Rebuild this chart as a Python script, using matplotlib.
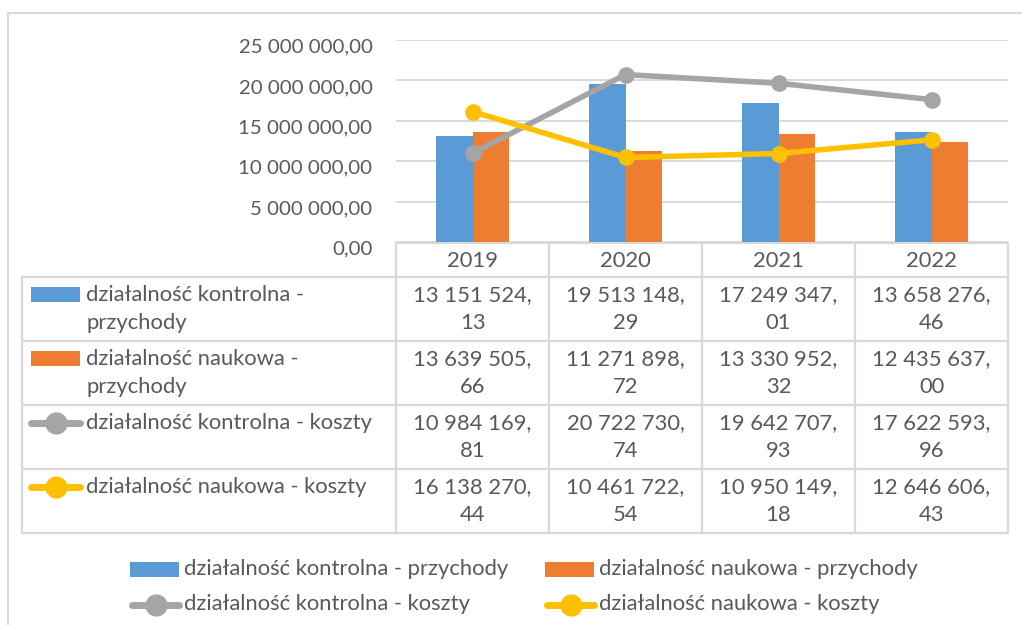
import numpy as np
import matplotlib.pyplot as plt
from matplotlib.patches import Rectangle
from matplotlib.transforms import ScaledTranslation

plt.rcParams['font.family'] = ['Lato', 'DejaVu Sans']

# dane
lata = ['2019', '2020', '2021', '2022']
serie = ['działalność kontrolna - przychody', 'działalność naukowa - przychody',
         'działalność kontrolna - koszty', 'działalność naukowa - koszty']
kontrolna_przychody = [13151524.13, 19513148.29, 17249347.01, 13658276.46]
naukowa_przychody = [13639505.66, 11271898.72, 13330952.32, 12435637.00]
kontrolna_koszty = [10984169.81, 20722730.74, 19642707.93, 17622593.96]
naukowa_koszty = [16138270.44, 10461722.54, 10950149.18, 12646606.43]
wartosci = [kontrolna_przychody, naukowa_przychody, kontrolna_koszty, naukowa_koszty]
kolory = ['#5B9BD5', '#ED7D31', '#A5A5A5', '#FFC000']
typy = ['bar', 'bar', 'line', 'line']

TXT = '#595959'
SIATKA = '#D9D9D9'
FS = 15.8
FS_Y = 14.7
W, H = 1022, 625


def pl(v):
    # format polski: spacja jako separator tysięcy, przecinek dziesiętny
    s = f'{v:,.2f}'
    return s.replace(',', ' ').replace('.', ',')


fig = plt.figure(figsize=(W / 100, H / 100), dpi=100)

# warstwa do tabeli, ramki i legendy (współrzędne w pikselach)
ov = fig.add_axes([0, 0, 1, 1])
ov.set_xlim(0, W)
ov.set_ylim(H, 0)
ov.axis('off')

x0, x1, ytop, y0 = 396, 1008, 40, 242
ax = fig.add_axes([x0 / W, 1 - y0 / H, (x1 - x0) / W, (y0 - ytop) / H])
x = np.arange(len(lata))
bw = 0.239
ax.bar(x - bw / 2, kontrolna_przychody, bw, color=kolory[0], zorder=2)
ax.bar(x + bw / 2, naukowa_przychody, bw, color=kolory[1], zorder=2)
ax.plot(x, kontrolna_koszty, color=kolory[2], lw=4, marker='o', ms=11, zorder=3,
        solid_capstyle='round')
ax.plot(x, naukowa_koszty, color=kolory[3], lw=4, marker='o', ms=11, zorder=3,
        solid_capstyle='round')
ax.set_xlim(-0.5, len(lata) - 0.5)
ax.set_ylim(0, 25000000)
ax.set_yticks(np.arange(0, 25000001, 5000000))
ax.set_yticklabels([pl(t) for t in ax.get_yticks()], fontsize=FS_Y, color=TXT)
ax.set_xticks([])
ax.tick_params(axis='y', length=0, pad=17)
for lab in ax.get_yticklabels():
    lab.set_transform(lab.get_transform() + ScaledTranslation(0, -4 / 72, fig.dpi_scale_trans))
ax.grid(axis='y', color=SIATKA, lw=1.4, zorder=0)
for s in ax.spines.values():
    s.set_visible(False)
ax.patch.set_alpha(0)

# ramka wykresu
ov.plot([8, 8], [13, H], color=SIATKA, lw=1.5)
ov.plot([8, W], [13, 13], color=SIATKA, lw=1.5)

# tabela danych
lw_t = 1.6
cw = (x1 - x0) / len(lata)
kol = [x0 + i * cw for i in range(len(lata) + 1)]
hy0, hy1 = 243, 277
ov.plot([x0, x1], [hy0, hy0], color=SIATKA, lw=lw_t)
for k in kol:
    ov.plot([k, k], [hy0, hy1], color=SIATKA, lw=lw_t)
for i, rok in enumerate(lata):
    ov.text(kol[i] + cw / 2, (hy0 + hy1) / 2 + 1, rok, ha='center', va='center',
            fontsize=FS, color=TXT)

tx0, by1 = 22, 533
rh = (by1 - hy1) / len(serie)
wiersze = [hy1 + j * rh for j in range(len(serie) + 1)]
for r in wiersze:
    ov.plot([tx0, x1], [r, r], color=SIATKA, lw=lw_t)
for k in [tx0] + kol:
    ov.plot([k, k], [hy1, by1], color=SIATKA, lw=lw_t)

for j, (nazwa, vals, c, t) in enumerate(zip(serie, wartosci, kolory, typy)):
    r = wiersze[j]
    if t == 'bar':
        ov.add_patch(Rectangle((31, r + 10), 49, 15, color=c, lw=0))
        linie = nazwa.replace(' - przychody', ' -\nprzychody').split('\n')
    else:
        ov.plot([31, 80], [r + 18, r + 18], color=c, lw=5, solid_capstyle='round')
        ov.plot([55.5], [r + 18], marker='o', ms=15, color=c)
        linie = [nazwa]
    for n, ln in enumerate(linie):
        ov.text(86, r + 18 + 28 * n, ln, ha='left', va='center', fontsize=FS, color=TXT)
    for i, v in enumerate(vals):
        a, b = pl(v).split(',')
        ov.text(kol[i] + cw / 2, r + 18, a + ',', ha='center', va='center',
                fontsize=FS, color=TXT)
        ov.text(kol[i] + cw / 2, r + 46, b, ha='center', va='center',
                fontsize=FS, color=TXT)

# legenda
poz = [(130, 570), (545, 570), (130, 605), (545, 605)]
for (lx, ly), nazwa, c, t in zip(poz, serie, kolory, typy):
    if t == 'bar':
        ov.add_patch(Rectangle((lx, ly - 8), 49, 15, color=c, lw=0))
    else:
        ov.plot([lx + 2, lx + 49], [ly, ly], color=c, lw=5, solid_capstyle='round')
        ov.plot([lx + 25.5], [ly], marker='o', ms=15, color=c)
    ov.text(lx + 54, ly - 1, nazwa, ha='left', va='center', fontsize=FS, color=TXT)

fig.savefig('out.png', dpi=100)
